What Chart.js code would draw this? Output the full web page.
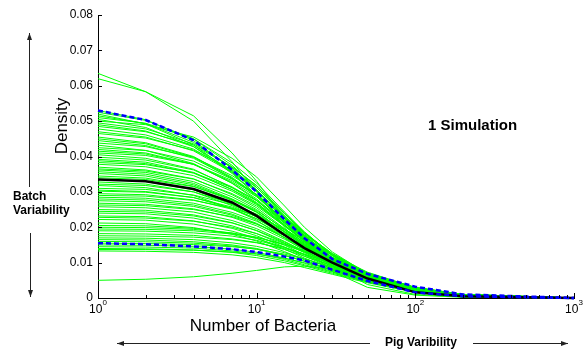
<!DOCTYPE html>
<html>
<head>
<meta charset="utf-8">
<script src="https://cdn.jsdelivr.net/npm/chart.js@4.4.0/dist/chart.umd.min.js"></script>
<style>
  html, body { margin: 0; padding: 0; background: #fff; }
</style>
</head>
<body>
<canvas id="chart" width="584" height="354"></canvas>
<script>
// x positions (number of bacteria) where the densities were evaluated
var xPoints = [1, 2, 4, 7, 10, 15, 20, 30, 50, 100, 200, 1000];

// summary curves
var meanCurve  = [0.0335, 0.0330, 0.0308, 0.0270, 0.0232, 0.0178, 0.0141, 0.0100, 0.0055, 0.0016, 0.0005, 0];
var upperBand  = [0.0530, 0.0503, 0.0446, 0.0362, 0.0300, 0.0222, 0.0169, 0.0110, 0.0068, 0.0032, 0.0010, 0];
var lowerBand  = [0.0155, 0.0152, 0.0146, 0.0138, 0.0130, 0.0117, 0.0106, 0.0080, 0.0048, 0.0016, 0.0005, 0];

// individual simulated batches
var simCurves = [
  [0.0635, 0.0583, 0.0500, 0.0385, 0.0300, 0.0200, 0.0140, 0.0075, 0.0030, 0.0008, 0.0002, 0],
  [0.0620, 0.0583, 0.0515, 0.0410, 0.0330, 0.0225, 0.0160, 0.0090, 0.0038, 0.0010, 0.0003, 0],
  [0.0050, 0.0053, 0.0060, 0.0070, 0.0078, 0.0088, 0.0090, 0.0082, 0.0060, 0.0028, 0.0009, 0],
  [0.0530, 0.0504, 0.0445, 0.0366, 0.0302, 0.0223, 0.0170, 0.0106, 0.0050, 0.0021, 0.0006, 0],
  [0.0525, 0.0502, 0.0450, 0.0375, 0.0312, 0.0232, 0.0178, 0.0112, 0.0054, 0.0023, 0.0007, 0],
  [0.0520, 0.0492, 0.0433, 0.0355, 0.0290, 0.0212, 0.0160, 0.0100, 0.0047, 0.0019, 0.0005, 0],
  [0.0515, 0.0493, 0.0440, 0.0368, 0.0305, 0.0228, 0.0175, 0.0110, 0.0053, 0.0022, 0.0006, 0],
  [0.0510, 0.0494, 0.0450, 0.0382, 0.0325, 0.0243, 0.0187, 0.0121, 0.0062, 0.0027, 0.0009, 0],
  [0.0505, 0.0482, 0.0428, 0.0352, 0.0290, 0.0215, 0.0164, 0.0102, 0.0049, 0.0020, 0.0006, 0],
  [0.0500, 0.0490, 0.0455, 0.0395, 0.0342, 0.0260, 0.0200, 0.0130, 0.0068, 0.0030, 0.0010, 0],
  [0.0495, 0.0478, 0.0436, 0.0371, 0.0317, 0.0238, 0.0183, 0.0119, 0.0059, 0.0025, 0.0008, 0],
  [0.0490, 0.0472, 0.0428, 0.0360, 0.0305, 0.0226, 0.0172, 0.0110, 0.0054, 0.0022, 0.0007, 0],
  [0.0485, 0.0470, 0.0432, 0.0370, 0.0318, 0.0240, 0.0186, 0.0121, 0.0061, 0.0026, 0.0008, 0],
  [0.0478, 0.0461, 0.0421, 0.0358, 0.0306, 0.0229, 0.0177, 0.0115, 0.0057, 0.0024, 0.0008, 0],
  [0.0470, 0.0455, 0.0416, 0.0355, 0.0303, 0.0228, 0.0176, 0.0114, 0.0058, 0.0024, 0.0008, 0],
  [0.0465, 0.0452, 0.0418, 0.0362, 0.0312, 0.0238, 0.0185, 0.0122, 0.0064, 0.0027, 0.0009, 0],
  [0.0455, 0.0439, 0.0400, 0.0341, 0.0291, 0.0218, 0.0168, 0.0109, 0.0055, 0.0023, 0.0007, 0],
  [0.0450, 0.0436, 0.0398, 0.0338, 0.0287, 0.0214, 0.0165, 0.0107, 0.0053, 0.0022, 0.0007, 0],
  [0.0445, 0.0431, 0.0395, 0.0338, 0.0290, 0.0219, 0.0169, 0.0110, 0.0056, 0.0023, 0.0008, 0],
  [0.0438, 0.0428, 0.0398, 0.0346, 0.0302, 0.0232, 0.0183, 0.0125, 0.0069, 0.0029, 0.0010, 0],
  [0.0432, 0.0417, 0.0380, 0.0324, 0.0276, 0.0207, 0.0160, 0.0104, 0.0052, 0.0022, 0.0007, 0],
  [0.0425, 0.0417, 0.0387, 0.0336, 0.0293, 0.0225, 0.0179, 0.0123, 0.0068, 0.0028, 0.0009, 0],
  [0.0420, 0.0410, 0.0378, 0.0325, 0.0280, 0.0212, 0.0166, 0.0112, 0.0059, 0.0024, 0.0008, 0],
  [0.0415, 0.0407, 0.0378, 0.0328, 0.0286, 0.0220, 0.0174, 0.0120, 0.0066, 0.0027, 0.0009, 0],
  [0.0410, 0.0403, 0.0378, 0.0332, 0.0292, 0.0228, 0.0182, 0.0126, 0.0071, 0.0030, 0.0010, 0],
  [0.0405, 0.0395, 0.0364, 0.0312, 0.0270, 0.0206, 0.0162, 0.0111, 0.0061, 0.0025, 0.0008, 0],
  [0.0398, 0.0390, 0.0362, 0.0314, 0.0275, 0.0211, 0.0167, 0.0115, 0.0064, 0.0026, 0.0009, 0],
  [0.0392, 0.0384, 0.0355, 0.0306, 0.0266, 0.0203, 0.0160, 0.0109, 0.0059, 0.0024, 0.0008, 0],
  [0.0388, 0.0380, 0.0353, 0.0307, 0.0268, 0.0206, 0.0163, 0.0113, 0.0062, 0.0025, 0.0009, 0],
  [0.0383, 0.0377, 0.0354, 0.0312, 0.0276, 0.0216, 0.0173, 0.0121, 0.0068, 0.0029, 0.0010, 0],
  [0.0378, 0.0371, 0.0346, 0.0302, 0.0264, 0.0204, 0.0162, 0.0112, 0.0062, 0.0025, 0.0008, 0],
  [0.0370, 0.0362, 0.0337, 0.0292, 0.0255, 0.0196, 0.0155, 0.0107, 0.0059, 0.0024, 0.0008, 0],
  [0.0365, 0.0359, 0.0336, 0.0295, 0.0260, 0.0203, 0.0162, 0.0113, 0.0063, 0.0026, 0.0009, 0],
  [0.0362, 0.0355, 0.0329, 0.0286, 0.0250, 0.0192, 0.0152, 0.0105, 0.0058, 0.0024, 0.0008, 0],
  [0.0357, 0.0350, 0.0324, 0.0280, 0.0244, 0.0186, 0.0147, 0.0100, 0.0054, 0.0022, 0.0007, 0],
  [0.0352, 0.0345, 0.0320, 0.0278, 0.0243, 0.0187, 0.0148, 0.0102, 0.0056, 0.0023, 0.0008, 0],
  [0.0345, 0.0339, 0.0316, 0.0276, 0.0242, 0.0187, 0.0149, 0.0103, 0.0057, 0.0023, 0.0008, 0],
  [0.0340, 0.0335, 0.0315, 0.0279, 0.0247, 0.0195, 0.0157, 0.0110, 0.0063, 0.0026, 0.0009, 0],
  [0.0336, 0.0329, 0.0306, 0.0265, 0.0232, 0.0178, 0.0141, 0.0097, 0.0054, 0.0022, 0.0007, 0],
  [0.0328, 0.0322, 0.0300, 0.0261, 0.0229, 0.0177, 0.0140, 0.0097, 0.0054, 0.0022, 0.0007, 0],
  [0.0322, 0.0318, 0.0300, 0.0267, 0.0237, 0.0188, 0.0152, 0.0108, 0.0062, 0.0025, 0.0009, 0],
  [0.0318, 0.0312, 0.0290, 0.0252, 0.0220, 0.0169, 0.0134, 0.0092, 0.0051, 0.0021, 0.0007, 0],
  [0.0310, 0.0307, 0.0291, 0.0264, 0.0236, 0.0192, 0.0158, 0.0115, 0.0068, 0.0026, 0.0009, 0],
  [0.0305, 0.0301, 0.0284, 0.0253, 0.0224, 0.0178, 0.0144, 0.0102, 0.0058, 0.0023, 0.0008, 0],
  [0.0302, 0.0299, 0.0284, 0.0257, 0.0230, 0.0187, 0.0154, 0.0112, 0.0066, 0.0026, 0.0009, 0],
  [0.0295, 0.0292, 0.0277, 0.0251, 0.0224, 0.0183, 0.0150, 0.0109, 0.0065, 0.0025, 0.0009, 0],
  [0.0290, 0.0288, 0.0276, 0.0254, 0.0231, 0.0194, 0.0163, 0.0121, 0.0073, 0.0029, 0.0010, 0],
  [0.0285, 0.0282, 0.0268, 0.0242, 0.0217, 0.0177, 0.0145, 0.0105, 0.0063, 0.0024, 0.0009, 0],
  [0.0280, 0.0277, 0.0263, 0.0237, 0.0211, 0.0171, 0.0139, 0.0100, 0.0058, 0.0022, 0.0008, 0],
  [0.0275, 0.0272, 0.0259, 0.0234, 0.0209, 0.0171, 0.0140, 0.0102, 0.0061, 0.0023, 0.0008, 0],
  [0.0268, 0.0265, 0.0252, 0.0228, 0.0204, 0.0166, 0.0137, 0.0099, 0.0059, 0.0023, 0.0008, 0],
  [0.0263, 0.0261, 0.0250, 0.0230, 0.0209, 0.0176, 0.0149, 0.0111, 0.0068, 0.0027, 0.0009, 0],
  [0.0258, 0.0255, 0.0243, 0.0219, 0.0196, 0.0160, 0.0132, 0.0095, 0.0057, 0.0022, 0.0008, 0],
  [0.0250, 0.0248, 0.0235, 0.0213, 0.0190, 0.0155, 0.0128, 0.0093, 0.0055, 0.0021, 0.0008, 0],
  [0.0245, 0.0243, 0.0232, 0.0212, 0.0191, 0.0158, 0.0132, 0.0097, 0.0059, 0.0023, 0.0008, 0],
  [0.0240, 0.0238, 0.0226, 0.0204, 0.0182, 0.0149, 0.0122, 0.0089, 0.0053, 0.0020, 0.0007, 0],
  [0.0232, 0.0230, 0.0218, 0.0197, 0.0176, 0.0144, 0.0118, 0.0086, 0.0051, 0.0020, 0.0007, 0],
  [0.0228, 0.0226, 0.0217, 0.0200, 0.0182, 0.0154, 0.0130, 0.0098, 0.0061, 0.0024, 0.0008, 0],
  [0.0222, 0.0220, 0.0209, 0.0189, 0.0169, 0.0138, 0.0113, 0.0082, 0.0049, 0.0019, 0.0007, 0],
  [0.0212, 0.0210, 0.0199, 0.0180, 0.0161, 0.0131, 0.0108, 0.0078, 0.0047, 0.0018, 0.0006, 0],
  [0.0205, 0.0204, 0.0197, 0.0183, 0.0168, 0.0143, 0.0122, 0.0091, 0.0056, 0.0021, 0.0007, 0],
  [0.0200, 0.0199, 0.0194, 0.0184, 0.0172, 0.0150, 0.0130, 0.0100, 0.0064, 0.0024, 0.0008, 0],
  [0.0195, 0.0194, 0.0190, 0.0181, 0.0171, 0.0152, 0.0134, 0.0106, 0.0070, 0.0028, 0.0010, 0],
  [0.0190, 0.0189, 0.0184, 0.0175, 0.0163, 0.0143, 0.0124, 0.0095, 0.0061, 0.0023, 0.0008, 0],
  [0.0182, 0.0181, 0.0177, 0.0167, 0.0157, 0.0137, 0.0118, 0.0091, 0.0058, 0.0022, 0.0008, 0],
  [0.0176, 0.0175, 0.0172, 0.0165, 0.0156, 0.0140, 0.0124, 0.0098, 0.0065, 0.0026, 0.0009, 0],
  [0.0170, 0.0169, 0.0165, 0.0156, 0.0146, 0.0128, 0.0111, 0.0085, 0.0054, 0.0020, 0.0007, 0],
  [0.0165, 0.0164, 0.0159, 0.0150, 0.0140, 0.0121, 0.0104, 0.0078, 0.0048, 0.0017, 0.0006, 0],
  [0.0160, 0.0159, 0.0155, 0.0147, 0.0138, 0.0120, 0.0104, 0.0080, 0.0051, 0.0019, 0.0007, 0],
  [0.0155, 0.0154, 0.0151, 0.0145, 0.0138, 0.0124, 0.0110, 0.0088, 0.0059, 0.0024, 0.0008, 0],
  [0.0150, 0.0149, 0.0146, 0.0138, 0.0129, 0.0113, 0.0098, 0.0075, 0.0048, 0.0018, 0.0006, 0],
  [0.0145, 0.0144, 0.0141, 0.0133, 0.0125, 0.0109, 0.0094, 0.0073, 0.0046, 0.0017, 0.0006, 0],
  [0.0140, 0.0139, 0.0136, 0.0129, 0.0120, 0.0105, 0.0091, 0.0070, 0.0045, 0.0017, 0.0006, 0],
  [0.0137, 0.0137, 0.0135, 0.0130, 0.0124, 0.0112, 0.0100, 0.0080, 0.0053, 0.0021, 0.0007, 0],
  [0.0133, 0.0132, 0.0129, 0.0122, 0.0114, 0.0100, 0.0086, 0.0067, 0.0043, 0.0016, 0.0006, 0]
];

// axis ticks
var yTickValues = [0, 0.01, 0.02, 0.03, 0.04, 0.05, 0.06, 0.07, 0.08];
var xMajorTicks = [1, 10, 100, 1000];
var xMajorExp = ['0', '1', '2', '3'];
var xMinorTicks = [2, 3, 4, 5, 6, 7, 8, 9, 20, 30, 40, 50, 60, 70, 80, 90, 200, 300, 400, 500, 600, 700, 800, 900];

var FONT = '"Liberation Sans", Arial, Helvetica, sans-serif';
Chart.defaults.font.family = FONT;

function toPoints(vals) {
  var pts = [];
  for (var i = 0; i < vals.length; i++) {
    pts.push({x: xPoints[i], y: vals[i]});
  }
  return pts;
}

var datasets = [];
datasets.push({
  data: toPoints(upperBand), borderColor: '#0000ff', borderWidth: 2.5,
  borderDash: [5, 3], order: 0
});
datasets.push({
  data: toPoints(lowerBand), borderColor: '#0000ff', borderWidth: 2.5,
  borderDash: [5, 3], order: 0
});
datasets.push({
  data: toPoints(meanCurve), borderColor: '#000000', borderWidth: 2.5, order: 1
});
for (var i = 0; i < simCurves.length; i++) {
  datasets.push({
    data: toPoints(simCurves[i]), borderColor: '#00ff00', borderWidth: 1, order: 2
  });
}

function arrow(ctx, x1, y1, x2, y2) {
  var ang = Math.atan2(y2 - y1, x2 - x1);
  ctx.beginPath();
  ctx.moveTo(x1, y1);
  ctx.lineTo(x2, y2);
  ctx.stroke();
  ctx.beginPath();
  ctx.moveTo(x2, y2);
  ctx.lineTo(x2 - 7 * Math.cos(ang) + 2.5 * Math.sin(ang), y2 - 7 * Math.sin(ang) - 2.5 * Math.cos(ang));
  ctx.lineTo(x2 - 7 * Math.cos(ang) - 2.5 * Math.sin(ang), y2 - 7 * Math.sin(ang) + 2.5 * Math.cos(ang));
  ctx.closePath();
  ctx.fill();
}

var decor = {
  id: 'decor',
  afterDraw: function(chart) {
    var ctx = chart.ctx;
    var xs = chart.scales.x, ys = chart.scales.y;
    var a = chart.chartArea;
    ctx.save();
    ctx.strokeStyle = '#000';
    ctx.fillStyle = '#000';
    ctx.lineWidth = 1;

    // inward tick marks
    ctx.beginPath();
    yTickValues.forEach(function(v) {
      var p = Math.round(ys.getPixelForValue(v)) + 0.5;
      ctx.moveTo(a.left, p); ctx.lineTo(a.left + 4, p);
    });
    xMajorTicks.forEach(function(v) {
      var p = Math.round(xs.getPixelForValue(v)) + 0.5;
      ctx.moveTo(p, a.bottom); ctx.lineTo(p, a.bottom - 5);
    });
    xMinorTicks.forEach(function(v) {
      var p = Math.round(xs.getPixelForValue(v)) + 0.5;
      ctx.moveTo(p, a.bottom); ctx.lineTo(p, a.bottom - 3);
    });
    ctx.stroke();

    // x tick labels 10^k
    ctx.textBaseline = 'alphabetic';
    ctx.textAlign = 'left';
    xMajorTicks.forEach(function(v, k) {
      var p = xs.getPixelForValue(v);
      ctx.font = '12px ' + FONT;
      var w1 = ctx.measureText('10').width;
      ctx.font = '8px ' + FONT;
      var w2 = ctx.measureText(xMajorExp[k]).width;
      var left = p - (w1 + w2) / 2;
      ctx.font = '12px ' + FONT;
      ctx.fillText('10', left, 313);
      ctx.font = '8px ' + FONT;
      ctx.fillText(xMajorExp[k], left + w1, 305);
    });

    // axis titles
    ctx.font = '17px ' + FONT;
    ctx.textAlign = 'center';
    ctx.textBaseline = 'middle';
    ctx.fillText('Number of Bacteria', 263, 326);
    ctx.save();
    ctx.translate(62, 126);
    ctx.rotate(-Math.PI / 2);
    ctx.fillText('Density', 0, 0);
    ctx.restore();

    // annotations
    ctx.font = 'bold 15px ' + FONT;
    ctx.textAlign = 'left';
    ctx.fillText('1 Simulation', 428, 126);
    ctx.font = 'bold 12px ' + FONT;
    ctx.fillText('Batch', 13, 197);
    ctx.fillText('Variability', 13, 211);
    ctx.textAlign = 'center';
    ctx.fillText('Pig Varibility', 421, 343);

    // arrows
    ctx.strokeStyle = '#222';
    ctx.fillStyle = '#222';
    arrow(ctx, 29.5, 187, 29.5, 33);
    arrow(ctx, 30.5, 233, 30.5, 297);
    arrow(ctx, 370, 343.5, 117, 343.5);
    arrow(ctx, 473, 343.5, 568, 343.5);
    ctx.restore();
  }
};

new Chart(document.getElementById('chart'), {
  type: 'line',
  data: { datasets: datasets },
  options: {
    responsive: false,
    devicePixelRatio: 1,
    animation: false,
    layout: { padding: { left: 0, top: 15, right: 10, bottom: 0 } },
    elements: {
      point: { radius: 0 },
      line: { tension: 0, borderCapStyle: 'butt' }
    },
    datasets: { line: { clip: 4 } },
    plugins: {
      legend: { display: false },
      tooltip: { enabled: false }
    },
    scales: {
      x: {
        type: 'logarithmic',
        min: 1,
        max: 1000,
        ticks: { display: false },
        grid: { display: false, drawTicks: false },
        border: { display: true, color: '#000', width: 1 },
        afterFit: function(scale) { scale.height = 56; }
      },
      y: {
        min: 0,
        max: 0.08,
        ticks: {
          stepSize: 0.01,
          padding: 5,
          color: '#000',
          font: { size: 12 },
          callback: function(v) { return v === 0 ? '0' : v.toFixed(2); }
        },
        grid: { display: false, drawTicks: false },
        border: { display: true, color: '#000', width: 1 },
        afterFit: function(scale) { scale.width = 98; }
      }
    }
  },
  plugins: [decor]
});
</script>
</body>
</html>
